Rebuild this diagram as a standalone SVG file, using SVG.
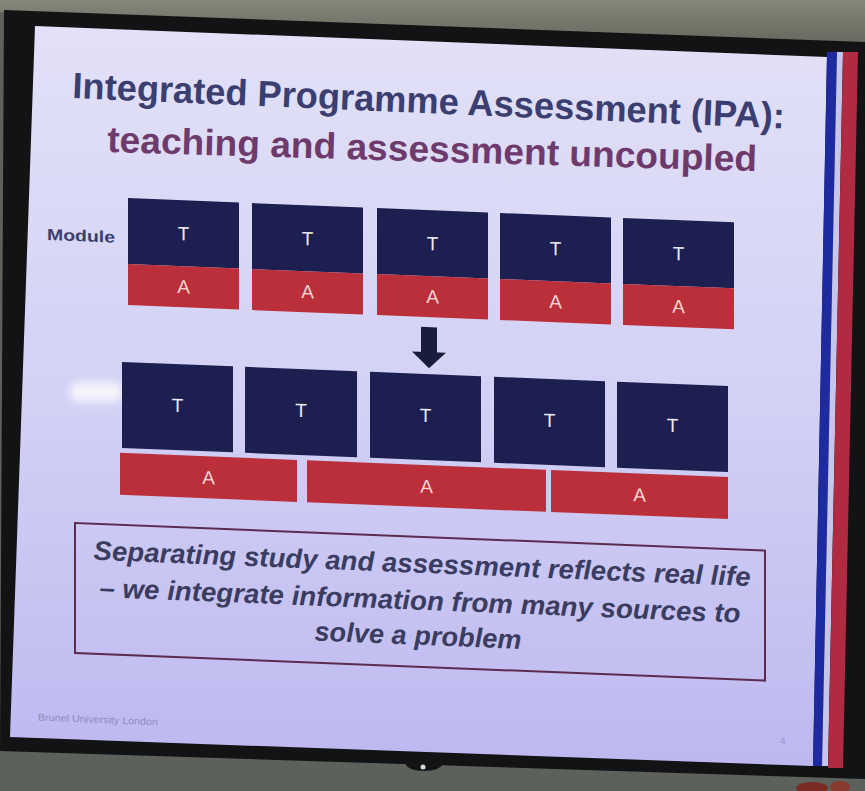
<svg xmlns="http://www.w3.org/2000/svg" width="865" height="791" viewBox="0 0 865 791">
  <defs>
    <linearGradient id="slideBg" x1="0" y1="0" x2="0" y2="1">
      <stop offset="0" stop-color="#e2e1f7"/>
      <stop offset="0.5" stop-color="#d3d1f5"/>
      <stop offset="1" stop-color="#bdb9f0"/>
    </linearGradient>
    <linearGradient id="wall" x1="0" y1="0" x2="0" y2="1">
      <stop offset="0" stop-color="#85857a"/>
      <stop offset="1" stop-color="#66665c"/>
    </linearGradient>
    <filter id="blur" x="-50%" y="-50%" width="200%" height="200%">
      <feGaussianBlur stdDeviation="5"/>
    </filter>
    <style>
      .title { font-family: "Liberation Sans", Arial, sans-serif; font-weight: bold; font-size: 36.5px; }
      .navy { fill: #1c1f50; }
      .red { fill: #bb2f3b; }
      .t { font-family: "Liberation Sans", Arial, sans-serif; font-size: 19px; fill: #eceaf4; text-anchor: middle; }
      .a { font-family: "Liberation Sans", Arial, sans-serif; font-size: 19px; fill: #f3d6d4; text-anchor: middle; }
      .body { font-family: "Liberation Sans", Arial, sans-serif; font-weight: bold; font-style: italic; font-size: 27px; fill: #3a3c60; text-anchor: middle; }
    </style>
  </defs>

  <!-- room / screen -->
  <rect width="865" height="791" fill="#5d615b"/>
  <polygon points="0,0 865,0 865,46 0,12" fill="url(#wall)"/>
  <polygon points="4,10 865,42 865,779 0,751" fill="#131316"/>
  <ellipse cx="424" cy="764" rx="18" ry="7" fill="#131316"/>
  <circle cx="423" cy="767" r="2.5" fill="#d8dcd8"/>
  <ellipse cx="812" cy="788" rx="16" ry="6" fill="#7a2c24"/>
  <ellipse cx="840" cy="787" rx="10" ry="6" fill="#8a3a2c"/>

  <!-- slide -->
  <polygon points="35,26 827,57 813,766 10,737" fill="url(#slideBg)"/>
  <polygon points="827,52 837,52 822,766 813,766" fill="#1e2aa0"/>
  <polygon points="837,52 843,52 828,766 822,766" fill="#c7c6ea"/>
  <polygon points="843,52 858,52 843,768 828,768" fill="#b02a42"/>
  <rect x="70" y="382" width="52" height="20" rx="8" fill="#ffffff" opacity="0.8" filter="url(#blur)"/>

  <!-- title -->
  <g id="title">
    <text class="title" x="72" y="98" fill="#3b3e70" textLength="713" lengthAdjust="spacingAndGlyphs" transform="rotate(2.45 72 98)">Integrated Programme Assessment (IPA):</text>
    <text class="title" x="107" y="152" fill="#6e3a6c" textLength="650" lengthAdjust="spacingAndGlyphs" transform="rotate(1.7 107 152)">teaching and assessment uncoupled</text>
  </g>

  <g transform="skewY(2.29)">
    <g id="module-label">
      <text x="47" y="238" font-family="Liberation Sans, Arial, sans-serif" font-weight="bold" font-size="16" fill="#3a3f70" textLength="68" lengthAdjust="spacingAndGlyphs">Module</text>
    </g>

    <!-- row 1: coupled modules -->
    <g id="module1">
      <rect class="navy" x="128" y="193" width="111" height="66"/>
      <rect class="red" x="128" y="259" width="111" height="41"/>
      <text class="t" x="183.5" y="233">T</text>
      <text class="a" x="183.5" y="286">A</text>
    </g>
    <g id="module2">
      <rect class="navy" x="252" y="193" width="111" height="66"/>
      <rect class="red" x="252" y="259" width="111" height="41"/>
      <text class="t" x="307.5" y="233">T</text>
      <text class="a" x="307.5" y="286">A</text>
    </g>
    <g id="module3">
      <rect class="navy" x="377" y="193" width="111" height="66"/>
      <rect class="red" x="377" y="259" width="111" height="41"/>
      <text class="t" x="432.5" y="233">T</text>
      <text class="a" x="432.5" y="286">A</text>
    </g>
    <g id="module4">
      <rect class="navy" x="500" y="193" width="111" height="66"/>
      <rect class="red" x="500" y="259" width="111" height="41"/>
      <text class="t" x="555.5" y="233">T</text>
      <text class="a" x="555.5" y="286">A</text>
    </g>
    <g id="module5">
      <rect class="navy" x="623" y="193" width="111" height="66"/>
      <rect class="red" x="623" y="259" width="111" height="41"/>
      <text class="t" x="678.5" y="233">T</text>
      <text class="a" x="678.5" y="286">A</text>
    </g>

    <!-- connector: down arrow -->
    <g id="connectors">
      <rect x="421" y="310" width="16" height="26" fill="#1a1c3c"/>
      <polygon points="412,335 446,335 429,351" fill="#1a1c3c"/>
    </g>

    <!-- row 2: teaching blocks -->
    <g id="teach1">
      <rect class="navy" x="122" y="357" width="111" height="86"/>
      <text class="t" x="177.5" y="405">T</text>
    </g>
    <g id="teach2">
      <rect class="navy" x="245" y="357" width="112" height="86"/>
      <text class="t" x="301" y="405">T</text>
    </g>
    <g id="teach3">
      <rect class="navy" x="370" y="357" width="111" height="86"/>
      <text class="t" x="425.5" y="405">T</text>
    </g>
    <g id="teach4">
      <rect class="navy" x="494" y="357" width="111" height="86"/>
      <text class="t" x="549.5" y="405">T</text>
    </g>
    <g id="teach5">
      <rect class="navy" x="617" y="357" width="111" height="86"/>
      <text class="t" x="672.5" y="405">T</text>
    </g>

    <!-- integrated assessments -->
    <g id="assess1">
      <rect class="red" x="120" y="448" width="177" height="42"/>
      <text class="a" x="208.5" y="476">A</text>
    </g>
    <g id="assess2">
      <rect class="red" x="307" y="448" width="239" height="42"/>
      <text class="a" x="426.5" y="476">A</text>
    </g>
    <g id="assess3">
      <rect class="red" x="551" y="448" width="177" height="42"/>
      <text class="a" x="639.5" y="476">A</text>
    </g>

    <!-- message box -->
    <g id="message">
      <rect x="75" y="520" width="690" height="130" fill="none" stroke="#5c2c50" stroke-width="2"/>
      <text class="body" x="422" y="556" textLength="657" lengthAdjust="spacingAndGlyphs">Separating study and assessment reflects real life</text>
      <text class="body" x="420" y="593" textLength="641" lengthAdjust="spacingAndGlyphs">– we integrate information from many sources to</text>
      <text class="body" x="418" y="628" textLength="207" lengthAdjust="spacingAndGlyphs">solve a problem</text>
    </g>

    <g id="footer">
      <text x="38" y="719" font-family="Liberation Sans, Arial, sans-serif" font-size="10" fill="#8e8cbc" textLength="120" lengthAdjust="spacingAndGlyphs">Brunel University London</text>
      <text x="780" y="713" font-family="Liberation Sans, Arial, sans-serif" font-size="10" fill="#9a98c8">4</text>
    </g>
  </g>
</svg>
